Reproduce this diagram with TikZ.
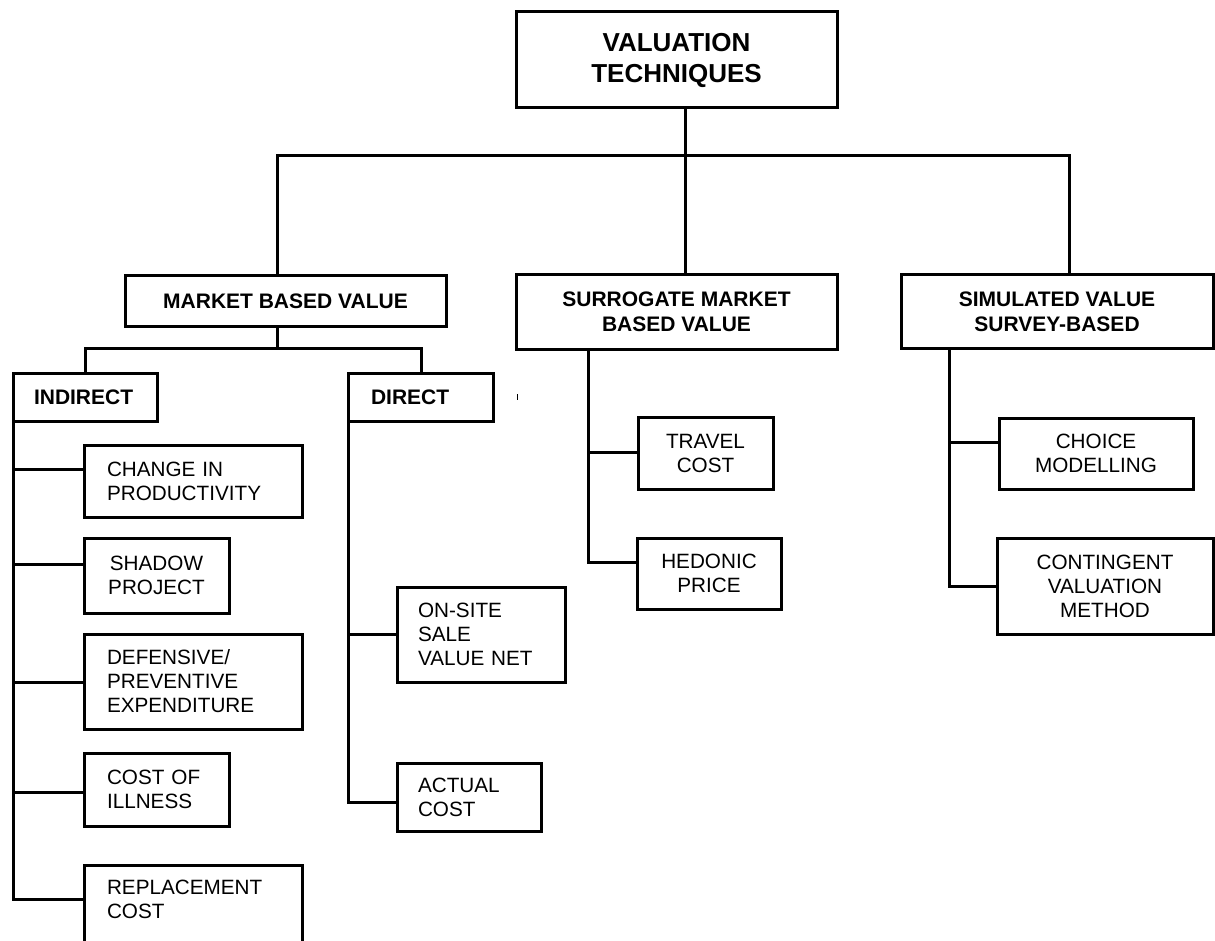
\documentclass[tikz,border=0pt]{standalone}
\usepackage{fontspec}
\setmainfont{Liberation Sans}
\begin{document}
\begin{tikzpicture}[x=1pt,y=-1pt,
  box/.style={draw, line width=3pt, inner sep=0pt, outer sep=0pt, anchor=north west,
              font=\fontsize{20.7}{24}\selectfont},
  cbox/.style={box, align=center},
  lbox/.style={box, align=left},
  bold/.style={font=\bfseries\fontsize{21}{25}\selectfont},
  conn/.style={line width=3pt}]
\useasboundingbox (0,0) rectangle (1215,941);
\clip (0,0) rectangle (1215,941);

% level 0
\node[cbox, font=\bfseries\fontsize{26}{31}\selectfont, minimum width=321pt, minimum height=96pt] (top) at (516,12) {VALUATION\\TECHNIQUES};

% level 1
\node[cbox, bold, minimum width=321pt, minimum height=50pt] (market) at (125,276) {MARKET BASED VALUE};
\node[cbox, bold, minimum width=321pt, minimum height=74pt] (surr) at (516,275) {SURROGATE MARKET\\BASED VALUE};
\node[cbox, bold, minimum width=312pt, minimum height=73pt] (sim) at (901,275) {SIMULATED VALUE\\SURVEY-BASED};

% level 2
\node[lbox, bold, inner xsep=21pt, text width=102pt, minimum height=48pt] (ind) at (13,373) {INDIRECT};
\node[lbox, bold, inner xsep=23pt, text width=99pt, minimum height=48pt] (dir) at (348,373) {DIRECT};

% indirect children
\node[lbox, inner xsep=23pt, text width=172pt, minimum height=72pt] (change) at (84,445) {CHANGE IN\\PRODUCTIVITY};
\node[cbox, minimum width=145pt, minimum height=75pt] (shadow) at (84,538) {SHADOW\\PROJECT};
\node[lbox, inner xsep=23pt, text width=172pt, minimum height=95pt] (def) at (84,634) {DEFENSIVE/\\PREVENTIVE\\EXPENDITURE};
\node[lbox, inner xsep=23pt, text width=99pt, minimum height=73pt] (cost) at (84,753) {COST OF\\ILLNESS};
\node[lbox, inner xsep=23pt, inner ysep=15pt, text width=172pt, text depth=60pt] (repl) at (84,865) {REPLACEMENT\\COST};

% direct children
\node[lbox, inner xsep=21pt, text width=126pt, minimum height=95pt] (onsite) at (397,587) {ON-SITE\\SALE\\VALUE NET};
\node[lbox, inner xsep=21pt, text width=102pt, minimum height=68pt] (actual) at (397,763) {ACTUAL\\COST};

% surrogate children
\node[cbox, minimum width=135pt, minimum height=72pt] (travel) at (638,417) {TRAVEL\\COST};
\node[cbox, minimum width=144pt, minimum height=71pt] (hedonic) at (637,538) {HEDONIC\\PRICE};

% simulated children
\node[cbox, minimum width=194pt, minimum height=71pt] (choice) at (999,418) {CHOICE\\MODELLING};
\node[cbox, minimum width=216pt, minimum height=96pt] (cont) at (997,538) {CONTINGENT\\VALUATION\\METHOD};

% junction coordinates
\coordinate (j0) at (685,156);
\coordinate (jL) at (277,156);
\coordinate (jR) at (1069,156);
\coordinate (m0) at (277,348);
\coordinate (mL) at (85,348);
\coordinate (mR) at (421,348);
\coordinate (i1) at (13,469);
\coordinate (i2) at (13,564);
\coordinate (i3) at (13,682);
\coordinate (i4) at (13,792);
\coordinate (i5) at (13,899);
\coordinate (d1) at (348,634);
\coordinate (d2) at (348,802);
\coordinate (s1) at (588,452);
\coordinate (s2) at (588,562);
\coordinate (v1) at (949,442);
\coordinate (v2) at (949,586);

% connectors
\draw[conn] (top.south -| j0) -- (j0);
\draw[conn] (market.north -| jL) -- (jL) -- (jR) -- (jR |- sim.north);
\draw[conn] (j0) -- (j0 |- surr.north);

\draw[conn] (market.south -| m0) -- (m0);
\draw[conn] (mL |- ind.north) -- (mL) -- (mR) -- (mR |- dir.north);

\draw[conn] (ind.south west) -- (i5) -- (i5 -| repl.west);
\draw[conn] (i1) -- (i1 -| change.west);
\draw[conn] (i2) -- (i2 -| shadow.west);
\draw[conn] (i3) -- (i3 -| def.west);
\draw[conn] (i4) -- (i4 -| cost.west);

\draw[conn] (dir.south west) -- (d2) -- (d2 -| actual.west);
\draw[conn] (d1) -- (d1 -| onsite.west);

\draw[conn] (surr.south -| s2) -- (s2) -- (s2 -| hedonic.west);
\draw[conn] (s1) -- (s1 -| travel.west);

\draw[conn] (sim.south -| v2) -- (v2) -- (v2 -| cont.west);
\draw[conn] (v1) -- (v1 -| choice.west);

% small stray tick
\draw[line width=1pt] (517,394) -- (517,400);
\end{tikzpicture}
\end{document}
